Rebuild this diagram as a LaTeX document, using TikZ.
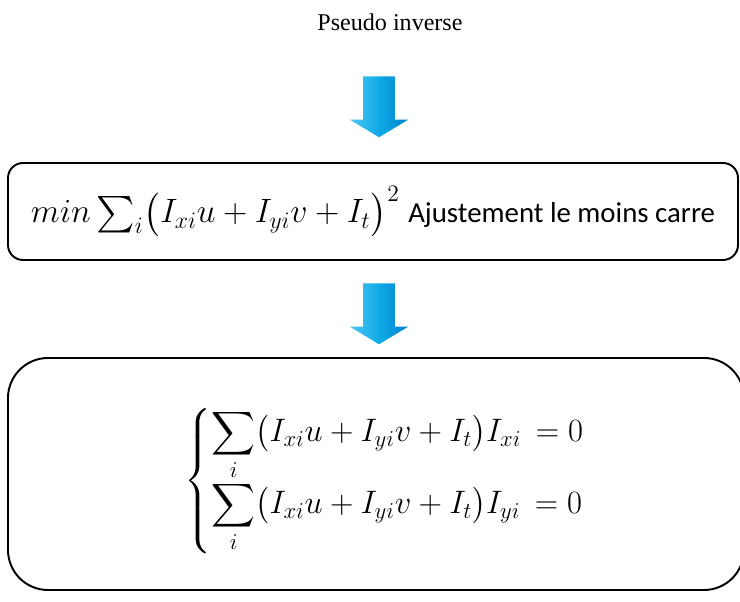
\documentclass[tikz,border=0pt]{standalone}
\usepackage{fix-cm}
\usepackage{exscale}
\usepackage{fontspec}
\setmainfont{Liberation Serif}
\newfontfamily\labelfont{Carlito}
\usetikzlibrary{positioning,shapes.arrows}
\definecolor{arrowlight}{RGB}{80,200,245}
\definecolor{arrowmid}{RGB}{15,170,230}
\definecolor{arrowdark}{RGB}{0,130,205}

\begin{document}
\begin{tikzpicture}[x=1cm,y=1cm,
  stepbox/.style={draw=black,line width=1.1pt,rounded corners=0.3cm,inner sep=0pt},
  downarrow/.style={single arrow,rotate=-90,minimum height=1.22cm,
    inner xsep=0pt,inner ysep=0.31cm,
    single arrow head extend=0.27cm,single arrow tip angle=118,draw=none,
    left color=arrowlight,right color=arrowdark,middle color=arrowmid}]
\useasboundingbox (0,0) rectangle (14.8,12.04);
\node[font=\fontsize{13.7}{16}\selectfont] (title) at (7.8,11.6) {Pseudo inverse};
\node[downarrow] (arrA) at (7.58,10.0) {};
\node[stepbox,minimum width=14.6cm,minimum height=1.94cm] (lsq) at (7.46,7.81)
  {\fontsize{19.2}{22}\selectfont $min\sum_i\bigl(I_{xi}u+I_{yi}v+I_t\bigr)^2$
   {\labelfont\fontsize{16.4}{19}\selectfont Ajustement le moins carre}};
\node[downarrow] (arrB) at (7.58,5.86) {};
\node[stepbox,rounded corners=0.8cm,minimum width=14.72cm,minimum height=4.64cm] (sys) at (7.52,2.56) {};
\node[font=\fontsize{18.5}{22}\selectfont] (eqs) at (7.7,2.42)
  {$\left\{\begin{array}{@{}l@{}}
     \displaystyle\sum_i\bigl(I_{xi}u+I_{yi}v+I_t\bigr)I_{xi}\,=0\\[6pt]
     \displaystyle\sum_i\bigl(I_{xi}u+I_{yi}v+I_t\bigr)I_{yi}\,=0
   \end{array}\right.$};
\end{tikzpicture}
\end{document}
